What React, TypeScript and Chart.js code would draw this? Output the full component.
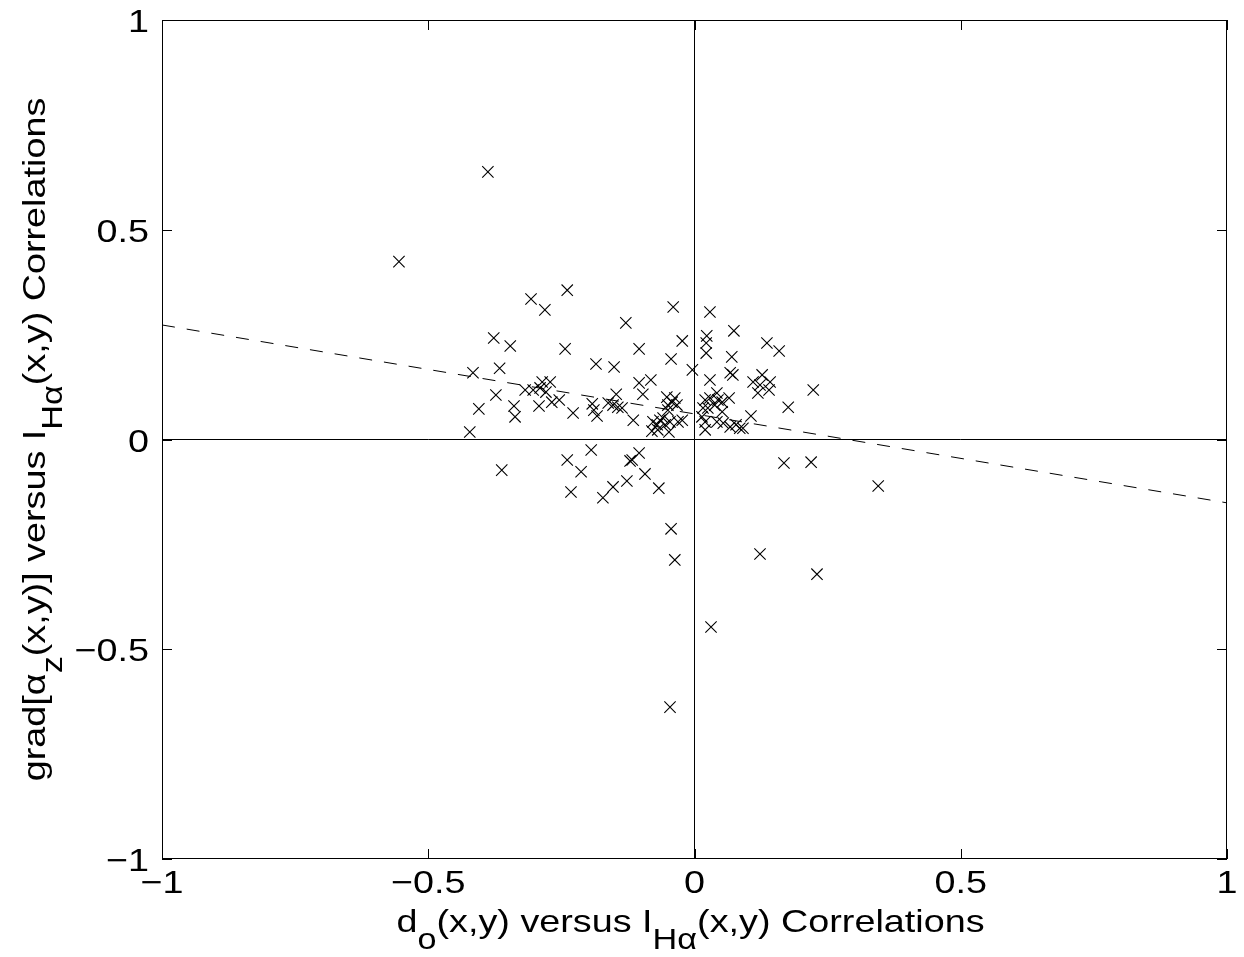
import React, { useEffect, useRef } from "react";
import { Chart, registerables } from "chart.js";

Chart.register(...registerables);

// ---- data ----
const pointX = [
  -0.388, -0.555, -0.046, 0.031, 0.123, 0.230, 0.345, -0.044, -0.037, 0.168,
  0.219, 0.223, 0.176, 0.159, 0.136,
  -0.239, -0.307, -0.281, -0.377, -0.346, -0.243, -0.185, -0.416, -0.366, -0.373,
  -0.405, -0.422, -0.339, -0.337, -0.318, -0.303, -0.290, -0.286, -0.271, -0.279,
  -0.292, -0.268, -0.254, -0.228, -0.192, -0.189, -0.183, -0.162, -0.153, -0.144,
  -0.136, -0.151, -0.129, -0.104, -0.044, -0.023, -0.040, -0.004, -0.104, -0.082,
  -0.097, -0.147, -0.115, -0.052, -0.042, -0.037, -0.050, -0.033, -0.050, -0.078,
  -0.070, -0.065, -0.059, -0.080, -0.069, -0.055, -0.046, -0.031, -0.023, -0.048,
  -0.194, -0.239, -0.362, -0.213, -0.117, -0.121, -0.104, -0.093, -0.127, -0.232,
  -0.153, -0.172, -0.067,
  0.029, 0.074, 0.023, 0.022, 0.022, 0.070, 0.067, 0.072, 0.029, 0.110,
  0.127, 0.123, 0.142, 0.119, 0.140, 0.020, 0.029, 0.042, 0.044, 0.052,
  0.065, 0.016, 0.025, 0.038, 0.052, 0.020, 0.042, 0.054, 0.020, 0.014,
  0.106, 0.067, 0.078, 0.085, 0.091,
];
const pointY = [
  0.638, 0.424, -0.638, -0.447, -0.273, -0.321, -0.111, -0.213, -0.287, -0.056,
  -0.054, 0.118, 0.077, 0.211, 0.230,
  0.356, 0.335, 0.309, 0.242, 0.223, 0.216, 0.180, 0.159, 0.170, 0.106,
  0.073, 0.018, 0.080, 0.054, 0.118, 0.118, 0.123, 0.137, 0.137, 0.113,
  0.080, 0.089, 0.094, 0.063, 0.085, 0.070, 0.056, 0.087, 0.082, 0.077,
  0.075, 0.173, 0.278, 0.216, 0.192, 0.235, 0.316, 0.166, 0.135, 0.142,
  0.108, 0.108, 0.046, 0.101, 0.089, 0.099, 0.082, 0.082, 0.070, 0.042,
  0.035, 0.046, 0.051, 0.020, 0.023, 0.035, 0.042, 0.042, 0.046, 0.018,
  -0.025, -0.049, -0.073, -0.077, -0.049, -0.051, -0.032, -0.082, -0.099, -0.125,
  -0.113, -0.139, -0.116,
  0.304, 0.259, 0.247, 0.230, 0.206, 0.197, 0.159, 0.154, 0.142, 0.137,
  0.154, 0.130, 0.137, 0.111, 0.118, 0.094, 0.099, 0.111, 0.094, 0.089,
  0.099, 0.075, 0.075, 0.082, 0.066, 0.042, 0.042, 0.039, 0.023, 0.054,
  0.056, 0.030, 0.035, 0.027, 0.027,
];
const fitLineX = [-1, 1];
const fitLineY = [0.273, -0.151];
const xTickValues = [-1, -0.5, 0, 0.5, 1];
const yTickValues = [-1, -0.5, 0, 0.5, 1];
const xTickLabels = ["\u22121", "\u22120.5", "0", "0.5", "1"];
const yTickLabels = ["\u22121", "\u22120.5", "0", "0.5", "1"];
type Part = { t: string; sub?: boolean };
const xTitleParts: Part[] = [
  { t: "d" },
  { t: "o", sub: true },
  { t: "(x,y) versus I" },
  { t: "H\u03b1", sub: true },
  { t: "(x,y) Correlations" },
];
const yTitleParts: Part[] = [
  { t: "grad[\u03b1" },
  { t: "z", sub: true },
  { t: "(x,y)] versus I" },
  { t: "H\u03b1", sub: true },
  { t: "(x,y) Correlations" },
];

const FONT_FAMILY = '"Liberation Sans", Arial, Helvetica, sans-serif';
const FONT_SIZE = 32;
const SUB_SIZE = 29;
const SUB_SHIFT = 17;
const STRETCH = 1.18;

function partsWidth(ctx: CanvasRenderingContext2D, parts: Part[]) {
  let w = 0;
  for (const p of parts) {
    ctx.font = `${p.sub ? SUB_SIZE : FONT_SIZE}px ${FONT_FAMILY}`;
    w += ctx.measureText(p.t).width * STRETCH;
  }
  return w;
}

function drawParts(ctx: CanvasRenderingContext2D, parts: Part[], cx: number, baseline: number) {
  const total = partsWidth(ctx, parts);
  let x = cx - total / 2;
  for (const p of parts) {
    ctx.font = `${p.sub ? SUB_SIZE : FONT_SIZE}px ${FONT_FAMILY}`;
    const w = ctx.measureText(p.t).width * STRETCH;
    ctx.save();
    ctx.translate(x, baseline + (p.sub ? SUB_SHIFT : 0));
    ctx.scale(STRETCH, 1);
    ctx.fillText(p.t, 0, 0);
    ctx.restore();
    x += w;
  }
}

const matlabAxes = {
  id: "matlabAxes",
  afterDraw(chart: any) {
    const ctx: CanvasRenderingContext2D = chart.ctx;
    const area = chart.chartArea;
    const xs = chart.scales.x;
    const ys = chart.scales.y;
    ctx.save();
    ctx.strokeStyle = "#000";
    ctx.fillStyle = "#000";
    ctx.lineWidth = 1;
    // box
    ctx.strokeRect(Math.round(area.left) + 0.5, Math.round(area.top) + 0.5,
      Math.round(area.right - area.left) - 1, Math.round(area.bottom - area.top) - 1);
    // inward ticks
    const tl = 10;
    ctx.beginPath();
    for (const v of xTickValues) {
      const px = Math.round(xs.getPixelForValue(v)) + 0.5;
      ctx.moveTo(px, area.bottom);
      ctx.lineTo(px, area.bottom - tl);
      ctx.moveTo(px, area.top);
      ctx.lineTo(px, area.top + tl);
    }
    for (const v of yTickValues) {
      const py = Math.round(ys.getPixelForValue(v)) + 0.5;
      ctx.moveTo(area.left, py);
      ctx.lineTo(area.left + tl, py);
      ctx.moveTo(area.right, py);
      ctx.lineTo(area.right - tl, py);
    }
    ctx.stroke();
    // tick labels
    ctx.textBaseline = "alphabetic";
    ctx.textAlign = "left";
    ctx.font = `${FONT_SIZE}px ${FONT_FAMILY}`;
    xTickValues.forEach((v, i) => {
      const px = xs.getPixelForValue(v);
      const w = ctx.measureText(xTickLabels[i]).width * STRETCH;
      ctx.save();
      ctx.translate(px - w / 2, area.bottom + 34);
      ctx.scale(STRETCH, 1);
      ctx.fillText(xTickLabels[i], 0, 0);
      ctx.restore();
    });
    yTickValues.forEach((v, i) => {
      const py = ys.getPixelForValue(v);
      const w = ctx.measureText(yTickLabels[i]).width * STRETCH;
      ctx.save();
      ctx.translate(area.left - 13 - w, py + 12);
      ctx.scale(STRETCH, 1);
      ctx.fillText(yTickLabels[i], 0, 0);
      ctx.restore();
    });
    // axis titles
    const cxp = (area.left + area.right) / 2;
    drawParts(ctx, xTitleParts, cxp - 4, area.bottom + 73);
    ctx.save();
    ctx.translate(45, (area.top + area.bottom) / 2);
    ctx.rotate(-Math.PI / 2);
    drawParts(ctx, yTitleParts, 0, 0);
    ctx.restore();
    ctx.restore();
  },
};

export default function App() {
  const ref = useRef<HTMLCanvasElement | null>(null);
  useEffect(() => {
    if (!ref.current) return;
    const points = pointX.map((x, i) => ({ x, y: pointY[i] }));
    const fit = fitLineX.map((x, i) => ({ x, y: fitLineY[i] }));
    const chart = new Chart(ref.current, {
      type: "scatter",
      data: {
        datasets: [
          {
            data: [{ x: -1, y: 0 }, { x: 1, y: 0 }],
            showLine: true,
            borderColor: "#000",
            borderWidth: 1,
            pointRadius: 0,
          },
          {
            data: [{ x: 0, y: -1 }, { x: 0, y: 1 }],
            showLine: true,
            borderColor: "#000",
            borderWidth: 1,
            pointRadius: 0,
          },
          {
            data: fit,
            showLine: true,
            borderColor: "#000",
            borderWidth: 1,
            borderDash: [13, 12],
            pointRadius: 0,
          },
          {
            data: points,
            pointStyle: "crossRot",
            pointRadius: 8,
            pointBorderWidth: 1.1,
            borderColor: "#000",
            backgroundColor: "#000",
            showLine: false,
          } as any,
        ],
      },
      options: {
        animation: false,
        responsive: false,
        layout: { padding: { top: 20, right: 17, left: 0, bottom: 0 } },
        plugins: { legend: { display: false }, tooltip: { enabled: false } },
        scales: {
          x: {
            type: "linear",
            min: -1,
            max: 1,
            ticks: { display: false, stepSize: 0.5 },
            grid: { display: false },
            border: { display: false },
            afterFit: (s: any) => { s.height = 98; },
          },
          y: {
            type: "linear",
            min: -1,
            max: 1,
            ticks: { display: false, stepSize: 0.5 },
            grid: { display: false },
            border: { display: false },
            afterFit: (s: any) => { s.width = 162; },
          },
        },
      },
      plugins: [matlabAxes],
    });
    return () => chart.destroy();
  }, []);
  return (
    <div style={{ position: "fixed", left: 0, top: 0, width: 1244, height: 957, background: "#fff" }}>
      <canvas ref={ref} width={1244} height={957} style={{ display: "block" }} />
    </div>
  );
}
